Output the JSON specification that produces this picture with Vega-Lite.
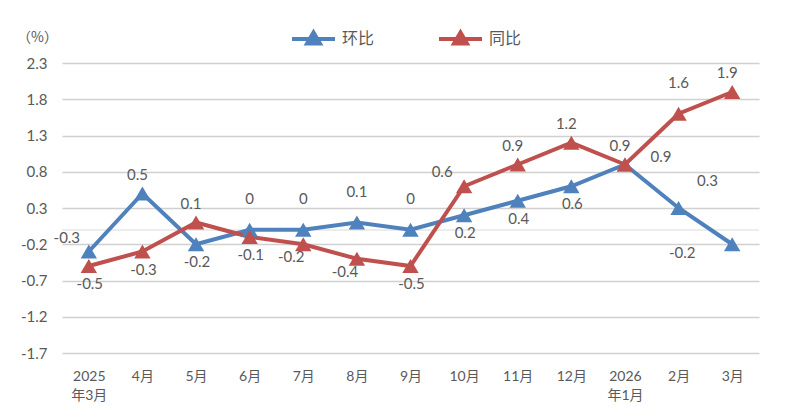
{
  "$schema": "https://vega.github.io/schema/vega-lite/v6.json",
  "width": 697,
  "height": 290,
  "autosize": {"type": "none"},
  "padding": {"left": 62, "top": 63, "right": 39, "bottom": 65},
  "background": "#ffffff",
  "data": {
    "values": [
      {"month": "2025年3月", "series": "环比", "value": -0.3, "pos": "tl"},
      {"month": "4月", "series": "环比", "value": 0.5, "pos": "t"},
      {"month": "5月", "series": "环比", "value": -0.2, "pos": "b"},
      {"month": "6月", "series": "环比", "value": 0, "pos": "tt"},
      {"month": "7月", "series": "环比", "value": 0, "pos": "tt"},
      {"month": "8月", "series": "环比", "value": 0.1, "pos": "tt"},
      {"month": "9月", "series": "环比", "value": 0, "pos": "tt"},
      {"month": "10月", "series": "环比", "value": 0.2, "pos": "b"},
      {"month": "11月", "series": "环比", "value": 0.4, "pos": "b"},
      {"month": "12月", "series": "环比", "value": 0.6, "pos": "b"},
      {"month": "2026年1月", "series": "环比", "value": 0.9, "pos": "r"},
      {"month": "2月", "series": "环比", "value": 0.3, "pos": "tr"},
      {"month": "3月", "series": "环比", "value": -0.2, "pos": "l"},
      {"month": "2025年3月", "series": "同比", "value": -0.5, "pos": "b"},
      {"month": "4月", "series": "同比", "value": -0.3, "pos": "b"},
      {"month": "5月", "series": "同比", "value": 0.1, "pos": "t"},
      {"month": "6月", "series": "同比", "value": -0.1, "pos": "b"},
      {"month": "7月", "series": "同比", "value": -0.2, "pos": "bl"},
      {"month": "8月", "series": "同比", "value": -0.4, "pos": "bl"},
      {"month": "9月", "series": "同比", "value": -0.5, "pos": "b"},
      {"month": "10月", "series": "同比", "value": 0.6, "pos": "tl"},
      {"month": "11月", "series": "同比", "value": 0.9, "pos": "t"},
      {"month": "12月", "series": "同比", "value": 1.2, "pos": "t"},
      {"month": "2026年1月", "series": "同比", "value": 0.9, "pos": "t"},
      {"month": "2月", "series": "同比", "value": 1.6, "pos": "tt"},
      {"month": "3月", "series": "同比", "value": 1.9, "pos": "t"}
    ]
  },
  "encoding": {
    "x": {
      "field": "month",
      "type": "ordinal",
      "sort": null,
      "title": null,
      "axis": {
        "labelAngle": 0,
        "labelPadding": 16,
        "labelLineHeight": 19,
        "labelExpr": "indexof(datum.label, '年') > 0 ? [slice(datum.label, 0, 4), slice(datum.label, 4)] : datum.label",
        "domain": false,
        "ticks": false,
        "grid": false
      }
    },
    "y": {
      "field": "value",
      "type": "quantitative",
      "title": "（%）",
      "scale": {"domain": [-1.7, 2.3], "nice": false, "zero": false},
      "axis": {
        "values": [-1.7, -1.2, -0.7, -0.2, 0.3, 0.8, 1.3, 1.8, 2.3],
        "format": ".1f",
        "labelExpr": "replace(datum.label, '−', '-')",
        "labelFontSize": 15,
        "domain": false,
        "ticks": false,
        "labelPadding": 15,
        "grid": true,
        "gridColor": "#d0d0d0",
        "gridWidth": 1.5,
        "titleAngle": 0,
        "titleAlign": "center",
        "titleBaseline": "middle",
        "titleX": -25,
        "titleY": -26,
        "titleFont": "Noto Sans CJK SC",
        "titleFontSize": 14,
        "titleFontWeight": "normal"
      }
    }
  },
  "layer": [
    {
      "mark": {"type": "rule", "color": "#ececec", "strokeWidth": 1},
      "encoding": {"y": {"datum": 0}, "x": {"value": 0}, "x2": {"value": 697}}
    },
    {
      "mark": {"type": "line", "strokeWidth": 4},
      "encoding": {
        "color": {
          "field": "series",
          "type": "nominal",
          "scale": {"domain": ["环比", "同比"], "range": ["#4F81BD", "#C0504D"]},
          "legend": {
            "title": null,
            "orient": "none",
            "direction": "horizontal",
            "legendX": 228,
            "legendY": -48,
            "symbolType": "M-1,0L1,0M-0.3,0.22L0,-0.3L0.3,0.22Z",
            "symbolSize": 1849,
            "symbolStrokeWidth": 4,
            "labelOffset": 5,
            "columnPadding": 56,
            "labelFontSize": 16,
            "labelColor": "#595959",
            "encode": {
              "symbols": {
                "update": {
                  "fill": {"scale": "color", "field": "value"},
                  "stroke": {"scale": "color", "field": "value"}
                }
              }
            }
          }
        }
      }
    },
    {
      "mark": {"type": "point", "shape": "triangle-up", "filled": true, "size": 270, "opacity": 1},
      "encoding": {
        "color": {"field": "series", "type": "nominal", "legend": null}
      }
    },
    {
      "transform": [{"filter": "datum.pos == 't'"}],
      "mark": {"type": "text", "dx": -5, "dy": -19},
      "encoding": {"text": {"field": "value", "type": "nominal"}}
    },
    {
      "transform": [{"filter": "datum.pos == 'tt'"}],
      "mark": {"type": "text", "dx": 0, "dy": -31},
      "encoding": {"text": {"field": "value", "type": "nominal"}}
    },
    {
      "transform": [{"filter": "datum.pos == 'b'"}],
      "mark": {"type": "text", "dx": 1, "dy": 18},
      "encoding": {"text": {"field": "value", "type": "nominal"}}
    },
    {
      "transform": [{"filter": "datum.pos == 'bl'"}],
      "mark": {"type": "text", "dx": -12, "dy": 13},
      "encoding": {"text": {"field": "value", "type": "nominal"}}
    },
    {
      "transform": [{"filter": "datum.pos == 'tl'"}],
      "mark": {"type": "text", "dx": -22, "dy": -14},
      "encoding": {"text": {"field": "value", "type": "nominal"}}
    },
    {
      "transform": [{"filter": "datum.pos == 'l'"}],
      "mark": {"type": "text", "dx": -50, "dy": 9},
      "encoding": {"text": {"field": "value", "type": "nominal"}}
    },
    {
      "transform": [{"filter": "datum.pos == 'r'"}],
      "mark": {"type": "text", "dx": 36, "dy": -8},
      "encoding": {"text": {"field": "value", "type": "nominal"}}
    },
    {
      "transform": [{"filter": "datum.pos == 'tr'"}],
      "mark": {"type": "text", "dx": 29, "dy": -27},
      "encoding": {"text": {"field": "value", "type": "nominal"}}
    }
  ],
  "config": {
    "font": "Lato, 'Noto Sans CJK SC'",
    "view": {"stroke": null},
    "axis": {"labelFontSize": 14, "labelColor": "#595959", "titleFontSize": 14, "titleColor": "#595959"},
    "text": {"baseline": "middle", "align": "center", "fontSize": 15, "color": "#595959"}
  }
}
